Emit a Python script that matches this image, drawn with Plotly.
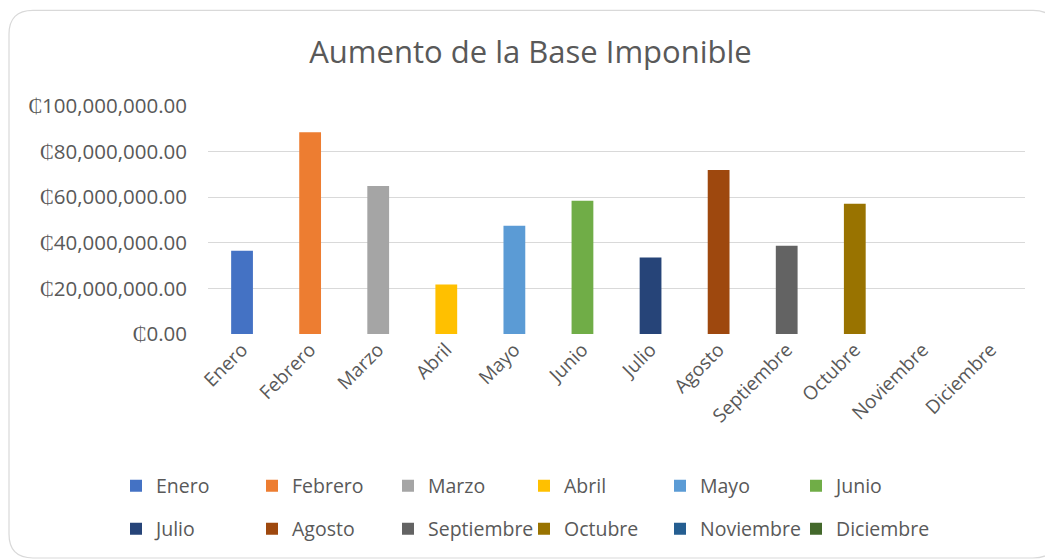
import plotly.graph_objects as go

# Monthly data
meses = ["Enero", "Febrero", "Marzo", "Abril", "Mayo", "Junio",
         "Julio", "Agosto", "Septiembre", "Octubre", "Noviembre", "Diciembre"]
aumento = [36_500_000, 88_500_000, 64_900_000, 21_700_000, 47_500_000, 58_400_000,
           33_500_000, 71_900_000, 38_700_000, 57_100_000, 0, 0]
colores = ["#4472C4", "#ED7D31", "#A5A5A5", "#FFC000", "#5B9BD5", "#70AD47",
           "#264478", "#9E480E", "#636363", "#997300", "#255E91", "#43682B"]

W, H = 1045, 559
ML, MR, MT, MB = 208, 20, 106, 224
PW, PH = W - ML - MR, H - MT - MB

FONT = "Open Sans"
GRIS = "#595959"


def px_x(p):
    return (p - ML) / PW


def px_y(p):
    return (H - MB - p) / PH


fig = go.Figure()
for i, (mes, val, col) in enumerate(zip(meses, aumento, colores)):
    fig.add_trace(go.Bar(
        x=[mes], y=[val], name=mes, marker_color=col, width=0.32,
        marker_line_width=0,
        legend="legend" if i < 6 else "legend2",
        hoverinfo="skip",
    ))

# Rounded chart-area border
x0, y0, x1, y1, r = 9, 10, 1057, 560, 24
path = (
    f"M {px_x(x0 + r)} {px_y(y0)} L {px_x(x1 - r)} {px_y(y0)} "
    f"Q {px_x(x1)} {px_y(y0)} {px_x(x1)} {px_y(y0 + r)} "
    f"L {px_x(x1)} {px_y(y1 - r)} "
    f"Q {px_x(x1)} {px_y(y1)} {px_x(x1 - r)} {px_y(y1)} "
    f"L {px_x(x0 + r)} {px_y(y1)} "
    f"Q {px_x(x0)} {px_y(y1)} {px_x(x0)} {px_y(y1 - r)} "
    f"L {px_x(x0)} {px_y(y0 + r)} "
    f"Q {px_x(x0)} {px_y(y0)} {px_x(x0 + r)} {px_y(y0)} Z"
)
fig.add_shape(type="path", path=path, xref="paper", yref="paper",
              line=dict(color="#D9D9D9", width=1.2), layer="below")

legend_common = dict(
    orientation="h", xanchor="left", yanchor="middle",
    entrywidth=91, entrywidthmode="pixels",
    font=dict(family=FONT, size=19.5, color=GRIS),
    bgcolor="rgba(0,0,0,0)", itemclick=False, itemdoubleclick=False,
    tracegroupgap=0,
)

fig.update_layout(
    width=W, height=H,
    margin=dict(l=ML, r=MR, t=MT, b=MB),
    paper_bgcolor="white", plot_bgcolor="white",
    barmode="overlay",
    title=dict(text="Aumento de la Base Imponible", xref="container",
               x=530.5 / W, xanchor="center",
               y=1 - 52 / H, yanchor="middle",
               font=dict(family=FONT, size=31, color=GRIS)),
    xaxis=dict(categoryorder="array", categoryarray=meses, tickangle=-45,
               showgrid=False, showline=False, zeroline=False,
               tickfont=dict(family=FONT, size=19, color=GRIS),
               range=[-0.5, 11.5]),
    yaxis=dict(range=[0, 100_000_000], dtick=20_000_000, tickprefix="₵",
               tickformat=",.2f", showgrid=True, gridcolor="#D9D9D9", gridwidth=1.3,
               zeroline=False, showline=False, ticklabelstandoff=20,
               tickfont=dict(family=FONT, size=20.5, color=GRIS)),
    legend=dict(x=px_x(116), y=px_y(486), **legend_common),
    legend2=dict(x=px_x(116), y=px_y(529), **legend_common),
    showlegend=True,
)

fig.write_html("out.html")
